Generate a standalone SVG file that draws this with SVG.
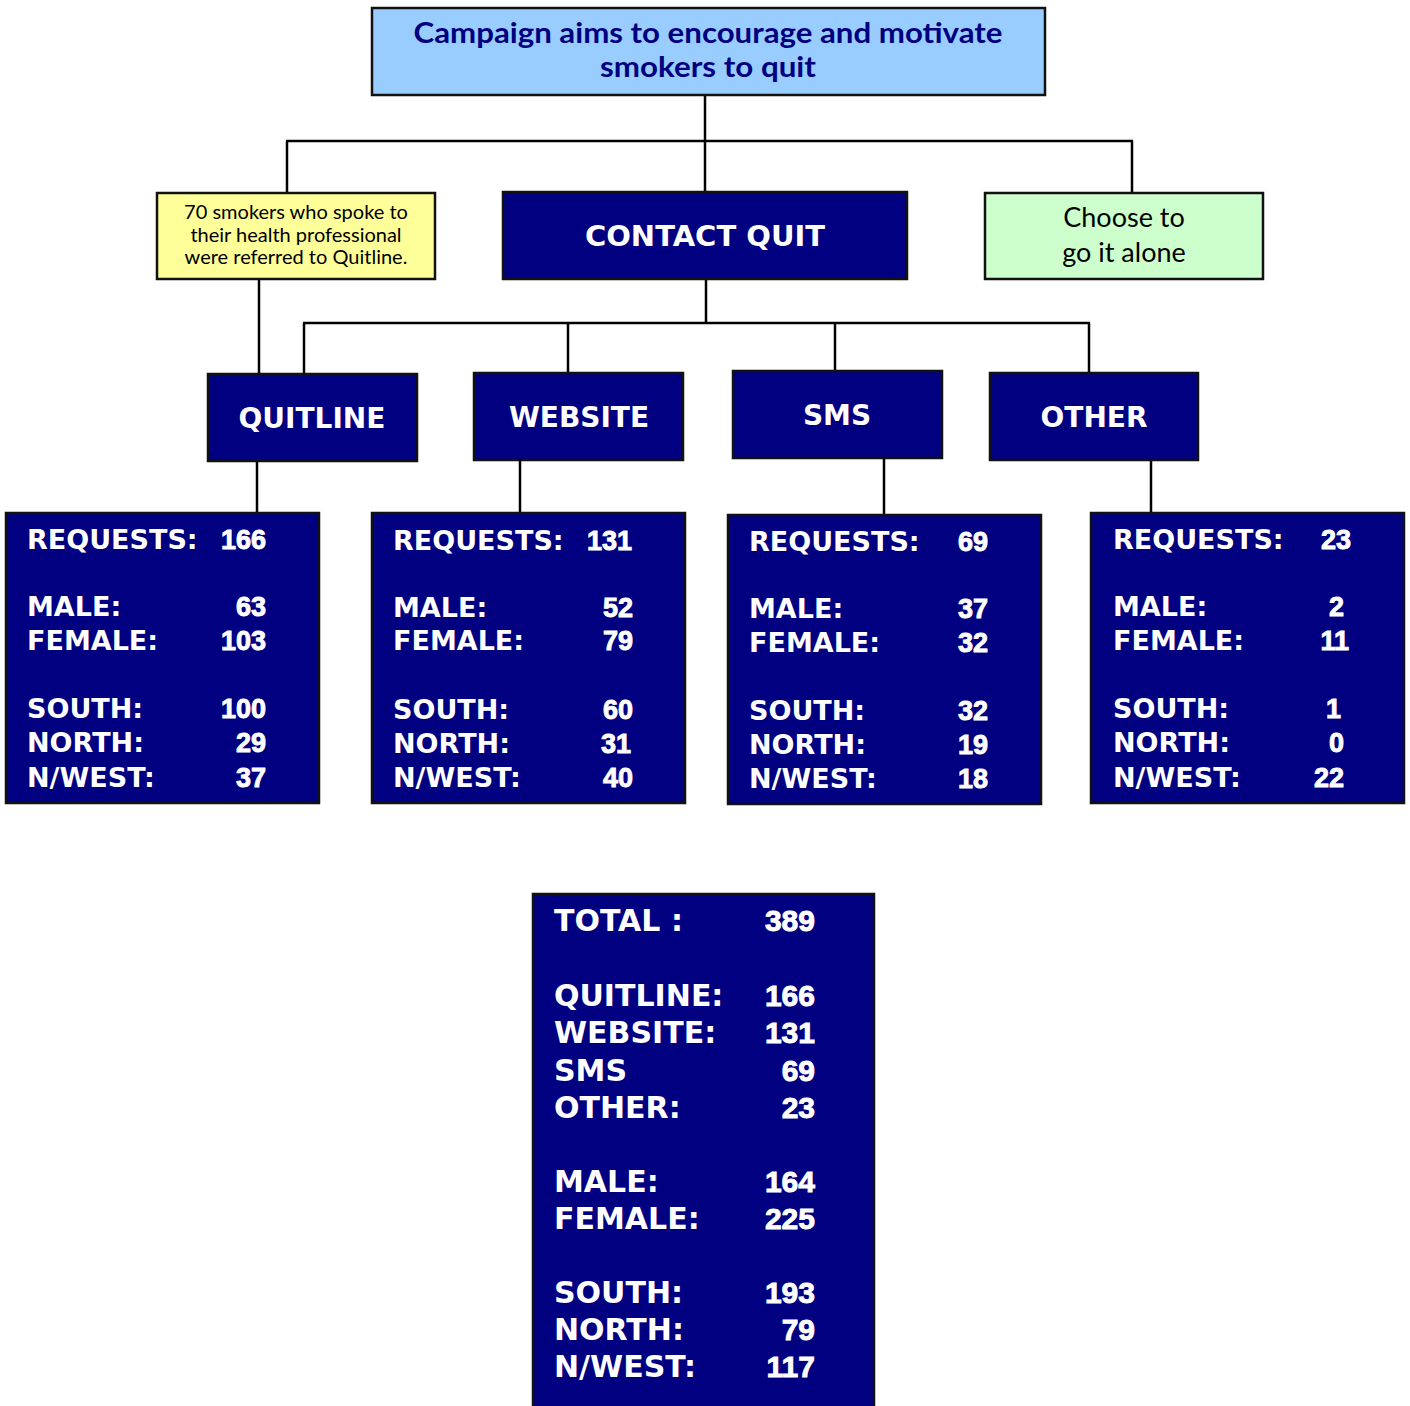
<svg xmlns="http://www.w3.org/2000/svg" width="1410" height="1406" viewBox="0 0 1410 1406">
<style>
.box{stroke:#111;stroke-width:2.5}
.navy{fill:#000080}
.conn line{stroke:#000;stroke-width:2.5}
.cap{font-family:"DejaVu Sans",sans-serif;font-weight:bold;fill:#fff}
.d{font-family:"DejaVu Sans",sans-serif;font-weight:bold;fill:#fff;font-size:27px}
.t{font-family:"DejaVu Sans",sans-serif;font-weight:bold;fill:#fff;font-size:30px}
text.n{text-anchor:end;font-family:"Liberation Sans",Arial,sans-serif;font-weight:bold;stroke:#fff;stroke-width:0.9}
.mix{font-family:"Lato","Liberation Sans",sans-serif;text-anchor:middle}
</style>
<rect width="1410" height="1406" fill="#fff"/>
<g id="connectors" class="conn">
<line x1="705" y1="95" x2="705" y2="192"/>
<line x1="286" y1="141" x2="1133" y2="141"/>
<line x1="287" y1="141" x2="287" y2="193"/>
<line x1="1132" y1="141" x2="1132" y2="193"/>
<line x1="706" y1="279" x2="706" y2="323"/>
<line x1="303" y1="323" x2="1090" y2="323"/>
<line x1="304" y1="323" x2="304" y2="374"/>
<line x1="568" y1="323" x2="568" y2="373"/>
<line x1="835" y1="323" x2="835" y2="371"/>
<line x1="1089" y1="323" x2="1089" y2="373"/>
<line x1="259" y1="279" x2="259" y2="374"/>
<line x1="257" y1="461" x2="257" y2="513"/>
<line x1="520" y1="460" x2="520" y2="513"/>
<line x1="884" y1="458" x2="884" y2="515"/>
<line x1="1151" y1="460" x2="1151" y2="513"/>
</g>
<g id="campaign">
<rect class="box" x="372" y="8" width="673" height="87" fill="#99CCFF"/>
<text class="mix" x="708" y="43" font-size="28" font-weight="bold" fill="#000080" textLength="589" lengthAdjust="spacingAndGlyphs">Campaign aims to encourage and motivate</text>
<text class="mix" x="708" y="77" font-size="28" font-weight="bold" fill="#000080" textLength="216" lengthAdjust="spacingAndGlyphs">smokers to quit</text>
</g>
<g id="referred">
<rect class="box" x="157" y="193" width="278" height="86" fill="#FFFF99"/>
<text class="mix" x="296" y="219" font-size="20" fill="#000">70 smokers who spoke to</text>
<text class="mix" x="296" y="242" font-size="20" fill="#000">their health professional</text>
<text class="mix" x="296" y="264" font-size="20" fill="#000">were referred to Quitline.</text>
</g>
<g id="contact-quit">
<rect class="box navy" x="503" y="192" width="404" height="87"/>
<text class="cap" x="705" y="246" font-size="29" text-anchor="middle">CONTACT QUIT</text>
</g>
<g id="alone">
<rect class="box" x="985" y="193" width="278" height="86" fill="#CCFFCC"/>
<text class="mix" x="1124" y="227" font-size="27" fill="#000">Choose to</text>
<text class="mix" x="1124" y="262" font-size="27" fill="#000">go it alone</text>
</g>
<g id="quitline">
<rect class="box navy" x="208" y="374" width="209" height="87"/>
<text class="cap" x="312" y="428" font-size="28" text-anchor="middle">QUITLINE</text>
</g>
<g id="website">
<rect class="box navy" x="474" y="373" width="209" height="87"/>
<text class="cap" x="579" y="427" font-size="28" text-anchor="middle">WEBSITE</text>
</g>
<g id="sms">
<rect class="box navy" x="733" y="371" width="209" height="87"/>
<text class="cap" x="837" y="425" font-size="28" text-anchor="middle">SMS</text>
</g>
<g id="other">
<rect class="box navy" x="990" y="373" width="208" height="87"/>
<text class="cap" x="1094" y="427" font-size="28" text-anchor="middle">OTHER</text>
</g>
<g id="quitline-data">
<rect class="box navy" x="6" y="513" width="313" height="290"/>
<text class="d" x="27" y="549">REQUESTS:</text><text class="d n" x="266" y="549">166</text>
<text class="d" x="27" y="616">MALE:</text><text class="d n" x="266" y="616">63</text>
<text class="d" x="27" y="650">FEMALE:</text><text class="d n" x="266" y="650">103</text>
<text class="d" x="27" y="718">SOUTH:</text><text class="d n" x="266" y="718">100</text>
<text class="d" x="27" y="752">NORTH:</text><text class="d n" x="266" y="752">29</text>
<text class="d" x="27" y="787">N/WEST:</text><text class="d n" x="266" y="787">37</text>
</g>
<g id="website-data">
<rect class="box navy" x="372" y="513" width="313" height="290"/>
<text class="d" x="393" y="550">REQUESTS:</text><text class="d n" x="632" y="550">131</text>
<text class="d" x="393" y="617">MALE:</text><text class="d n" x="633" y="617">52</text>
<text class="d" x="393" y="650">FEMALE:</text><text class="d n" x="633" y="650">79</text>
<text class="d" x="393" y="719">SOUTH:</text><text class="d n" x="633" y="719">60</text>
<text class="d" x="393" y="753">NORTH:</text><text class="d n" x="631" y="753">31</text>
<text class="d" x="393" y="787">N/WEST:</text><text class="d n" x="633" y="787">40</text>
</g>
<g id="sms-data">
<rect class="box navy" x="728" y="515" width="313" height="289"/>
<text class="d" x="749" y="551">REQUESTS:</text><text class="d n" x="988" y="551">69</text>
<text class="d" x="749" y="618">MALE:</text><text class="d n" x="988" y="618">37</text>
<text class="d" x="749" y="652">FEMALE:</text><text class="d n" x="988" y="652">32</text>
<text class="d" x="749" y="720">SOUTH:</text><text class="d n" x="988" y="720">32</text>
<text class="d" x="749" y="754">NORTH:</text><text class="d n" x="988" y="754">19</text>
<text class="d" x="749" y="788">N/WEST:</text><text class="d n" x="988" y="788">18</text>
</g>
<g id="other-data">
<rect class="box navy" x="1091" y="513" width="313" height="290"/>
<text class="d" x="1113" y="549">REQUESTS:</text><text class="d n" x="1351" y="549">23</text>
<text class="d" x="1113" y="616">MALE:</text><text class="d n" x="1344" y="616">2</text>
<text class="d" x="1113" y="650">FEMALE:</text><text class="d n" x="1349" y="650">11</text>
<text class="d" x="1113" y="718">SOUTH:</text><text class="d n" x="1341" y="718">1</text>
<text class="d" x="1113" y="752">NORTH:</text><text class="d n" x="1344" y="752">0</text>
<text class="d" x="1113" y="787">N/WEST:</text><text class="d n" x="1344" y="787">22</text>
</g>
<g id="total">
<rect class="box navy" x="533" y="894" width="341" height="520"/>
<text class="t" x="554" y="931">TOTAL :</text><text class="t n" x="815" y="931">389</text>
<text class="t" x="554" y="1006">QUITLINE:</text><text class="t n" x="815" y="1006">166</text>
<text class="t" x="554" y="1043">WEBSITE:</text><text class="t n" x="815" y="1043">131</text>
<text class="t" x="554" y="1081">SMS</text><text class="t n" x="815" y="1081">69</text>
<text class="t" x="554" y="1118">OTHER:</text><text class="t n" x="815" y="1118">23</text>
<text class="t" x="554" y="1192">MALE:</text><text class="t n" x="815" y="1192">164</text>
<text class="t" x="554" y="1229">FEMALE:</text><text class="t n" x="815" y="1229">225</text>
<text class="t" x="554" y="1303">SOUTH:</text><text class="t n" x="815" y="1303">193</text>
<text class="t" x="554" y="1340">NORTH:</text><text class="t n" x="815" y="1340">79</text>
<text class="t" x="554" y="1377">N/WEST:</text><text class="t n" x="815" y="1377">117</text>
</g>
</svg>
